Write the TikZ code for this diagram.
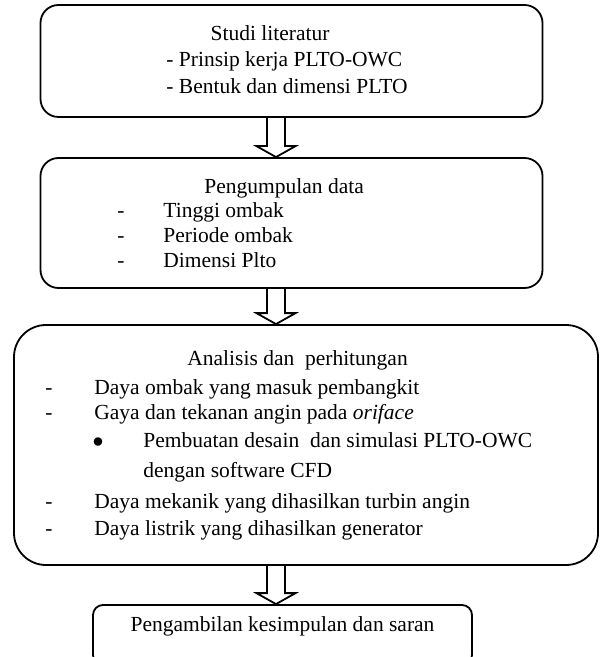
\documentclass[tikz,border=0pt]{standalone}
\usepackage{fontspec}
\setmainfont{Liberation Serif}
\usetikzlibrary{calc}
\tikzset{
	box/.style={draw,line width=0.9pt,rounded corners=#1,inner sep=0pt},
	box/.default=8pt,
	txt/.style={anchor=west,inner sep=0pt,text height=7.6pt,text depth=2.4pt},
	ctxt/.style={inner sep=0pt,text height=7.6pt,text depth=2.4pt}
}
% hollow block arrow going down between two points
\newcommand{\fatarrow}[2]{%
	\draw[line width=0.9pt,line join=miter] let \p1=(#1), \p2=(#2) in
	(\x1-4.5pt,\y1) -- (\x1-4.5pt,\y2+5.5pt) -- (\x1-9.75pt,\y2+5.5pt) -- (\x2,\y2)
	-- (\x1+9.75pt,\y2+5.5pt) -- (\x1+4.5pt,\y2+5.5pt) -- (\x1+4.5pt,\y1);}
\begin{document}
\begin{tikzpicture}[x=0.5pt,y=-0.5pt,font=\fontsize{10.75}{12.5}\selectfont]
	\useasboundingbox (0,0) rectangle (601,657);
	\clip (0,0) rectangle (601,657);
	%BOXES
	\node[box=9pt,minimum width=251pt,minimum height=56pt] (studi) at (291.5,61) {};
	\node[box=9pt,minimum width=251pt,minimum height=65pt] (pengumpulan) at (291.5,223) {};
	\node[box=16pt,minimum width=292pt,minimum height=120pt] (analisis) at (306,445) {};
	\node[box=5pt,minimum width=189.5pt,minimum height=30pt] (kesimpulan) at (282.5,635) {};
	\coordinate (axis) at (276,0);
	
	%STUDI LITERATUR
	\node[ctxt] (s0) at (270,35) {Studi literatur};
	\node[txt] (s1) at (166,61) {- Prinsip kerja PLTO-OWC};
	\node[txt] (s2) at (166,88) {- Bentuk dan dimensi PLTO};
	
	%PENGUMPULAN DATA
	\node[txt] (p0) at (204,188) {Pengumpulan data};
	\foreach \y/\t [count=\i] in {212/Tinggi ombak,237/Periode ombak,262/Dimensi Plto}{
		\node[txt] (pd\i) at (117,\y) {-};
		\node[txt] (p\i) at (163,\y) {\t};
	}
	
	%ANALISIS
	\node[txt] (a0) at (187,360) {Analisis dan~ perhitungan};
	\node[txt] (ad1) at (45,389) {-};
	\node[txt] (a1) at (94,389) {Daya ombak yang masuk pembangkit};
	\node[txt] (ad2) at (45,414) {-};
	\node[txt] (a2) at (94,414) {Gaya dan tekanan angin pada \textit{oriface}};
	\node[ctxt] (ab) at (98,442) {$\bullet$};
	\node[txt] (a3) at (143,442) {Pembuatan desain~ dan simulasi PLTO-OWC};
	\node[txt] (a4) at (143,472) {dengan software CFD};
	\node[txt] (ad5) at (45,503) {-};
	\node[txt] (a5) at (94,503) {Daya mekanik yang dihasilkan turbin angin};
	\node[txt] (ad6) at (45,530) {-};
	\node[txt] (a6) at (94,530) {Daya listrik yang dihasilkan generator};
	
	%KESIMPULAN
	\node[ctxt] (k0) at (282.5,626) {Pengambilan kesimpulan dan saran};
	
	%ARROWS
	\fatarrow{studi.south -| axis}{pengumpulan.north -| axis}
	\fatarrow{pengumpulan.south -| axis}{analisis.north -| axis}
	\fatarrow{analisis.south -| axis}{kesimpulan.north -| axis}
\end{tikzpicture}
\end{document}
